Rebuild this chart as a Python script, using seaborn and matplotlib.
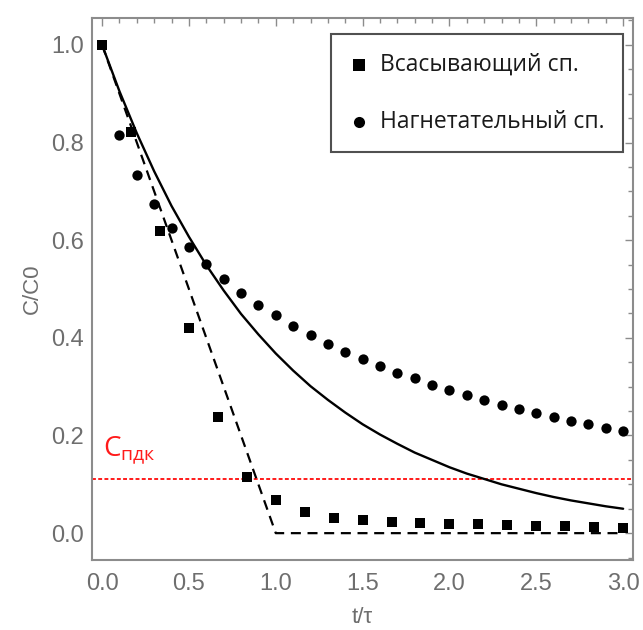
import numpy as np
import pandas as pd
import matplotlib
matplotlib.use("Agg")
import matplotlib.pyplot as plt
from matplotlib.ticker import MultipleLocator, FormatStrFormatter
import seaborn as sns

# Measured concentrations, suction header (squares)
t_suction = [0.0, 0.167, 0.333, 0.5, 0.667, 0.833, 1.0, 1.167, 1.333, 1.5,
             1.667, 1.833, 2.0, 2.167, 2.333, 2.5, 2.667, 2.833, 3.0]
c_suction = [1.0, 0.822, 0.618, 0.42, 0.238, 0.116, 0.068, 0.044, 0.031, 0.026,
             0.0225, 0.020, 0.019, 0.018, 0.016, 0.015, 0.014, 0.012, 0.011]

# Measured concentrations, discharge header (circles)
t_discharge = [0.1, 0.2, 0.3, 0.4, 0.5, 0.6, 0.7, 0.8, 0.9, 1.0,
               1.1, 1.2, 1.3, 1.4, 1.5, 1.6, 1.7, 1.8, 1.9, 2.0,
               2.1, 2.2, 2.3, 2.4, 2.5, 2.6, 2.7, 2.8, 2.9, 3.0]
c_discharge = [0.815, 0.734, 0.675, 0.625, 0.586, 0.551, 0.520, 0.492, 0.468, 0.446,
               0.425, 0.406, 0.388, 0.372, 0.356, 0.342, 0.329, 0.317, 0.304, 0.294,
               0.283, 0.273, 0.263, 0.254, 0.246, 0.238, 0.230, 0.223, 0.216, 0.210]

# Perfect-mixing model curve (solid)
t_mixing = [0.0, 0.1, 0.2, 0.3, 0.4, 0.5, 0.6, 0.7, 0.8, 0.9, 1.0,
            1.1, 1.2, 1.3, 1.4, 1.5, 1.6, 1.7, 1.8, 1.9, 2.0,
            2.1, 2.2, 2.3, 2.4, 2.5, 2.6, 2.7, 2.8, 2.9, 3.0]
c_mixing = [1.000, 0.905, 0.819, 0.741, 0.670, 0.607, 0.549, 0.497, 0.449, 0.407, 0.368,
            0.333, 0.301, 0.273, 0.247, 0.223, 0.202, 0.183, 0.165, 0.150, 0.135,
            0.122, 0.111, 0.100, 0.091, 0.082, 0.074, 0.067, 0.061, 0.055, 0.050]

# Plug-flow displacement model (dashed)
t_plug = [0.0, 1.0, 3.0]
c_plug = [1.0, 0.0, 0.0]

# Maximum permissible concentration level
c_limit = 0.11

legend_labels = ["Всасывающий сп.", "Нагнетательный сп."]
x_label = "t/τ"
y_label = "C/C0"

sns.set_style("white")
plt.rcParams["font.family"] = ["Liberation Sans", "DejaVu Sans"]

gray_text = "#6e6e6e"
gray_frame = "#8c8c8c"

fig = plt.figure(figsize=(6.43, 6.30), dpi=100)
ax = fig.add_axes([0.1431, 0.1111, 0.8414, 0.8603])

df_s = pd.DataFrame({"t": t_suction, "c": c_suction})
df_d = pd.DataFrame({"t": t_discharge, "c": c_discharge})
df_m = pd.DataFrame({"t": t_mixing, "c": c_mixing})
df_p = pd.DataFrame({"t": t_plug, "c": c_plug})

sns.lineplot(data=df_m, x="t", y="c", color="black", linewidth=1.7,
             estimator=None, sort=False, ax=ax, zorder=2)
sns.lineplot(data=df_p, x="t", y="c", color="black", linewidth=1.6,
             linestyle=(0, (4.5, 3.0)), estimator=None, sort=False, ax=ax, zorder=2)

ax.axhline(c_limit, color="#ff1a1a", linewidth=1.4, linestyle=(0, (2.0, 1.2)), zorder=1)

sns.scatterplot(data=df_s, x="t", y="c", marker="s", s=62, color="black",
                linewidth=0, ax=ax, label=legend_labels[0], zorder=3)
sns.scatterplot(data=df_d, x="t", y="c", marker="o", s=55, color="black",
                linewidth=0, ax=ax, label=legend_labels[1], zorder=3)

ax.text(0.003, 0.158, r"$\mathregular{C_{пдк}}$", color="#ff1a1a",
        fontsize=20, family=["Open Sans", "DejaVu Sans"], ha="left", va="baseline")

ax.set_xlim(-0.058, 3.057)
ax.set_ylim(-0.055, 1.055)

ax.xaxis.set_major_locator(MultipleLocator(0.5))
ax.xaxis.set_minor_locator(MultipleLocator(0.1))
ax.yaxis.set_major_locator(MultipleLocator(0.2))
ax.yaxis.set_minor_locator(MultipleLocator(0.05))
ax.xaxis.set_major_formatter(FormatStrFormatter("%.1f"))
ax.yaxis.set_major_formatter(FormatStrFormatter("%.1f"))

ax.tick_params(which="both", direction="in", top=True, right=True,
               color=gray_frame, width=1.0)
ax.tick_params(which="major", length=6, labelsize=17, labelcolor=gray_text, pad=6)
ax.tick_params(which="minor", length=3.5)
ax.tick_params(axis="x", which="major", pad=9)

for sp in ax.spines.values():
    sp.set_color(gray_frame)
    sp.set_linewidth(1.5)

ax.set_xlabel(x_label, fontsize=16, color=gray_text, labelpad=9)
ax.set_ylabel(y_label, fontsize=16, color=gray_text, labelpad=6)

leg = ax.legend(loc="upper right", bbox_to_anchor=(0.982, 0.970), frameon=True,
                fancybox=False, framealpha=1, edgecolor="#505050",
                prop={"family": ["Open Sans", "DejaVu Sans"], "size": 16.5},
                labelspacing=1.45, handletextpad=0.55, handlelength=0.8,
                borderpad=0.8, markerscale=1.08, borderaxespad=0)
leg.get_frame().set_linewidth(1.5)
for txt in leg.get_texts():
    txt.set_color("#1a1a1a")

fig.savefig("out.png", dpi=100)
